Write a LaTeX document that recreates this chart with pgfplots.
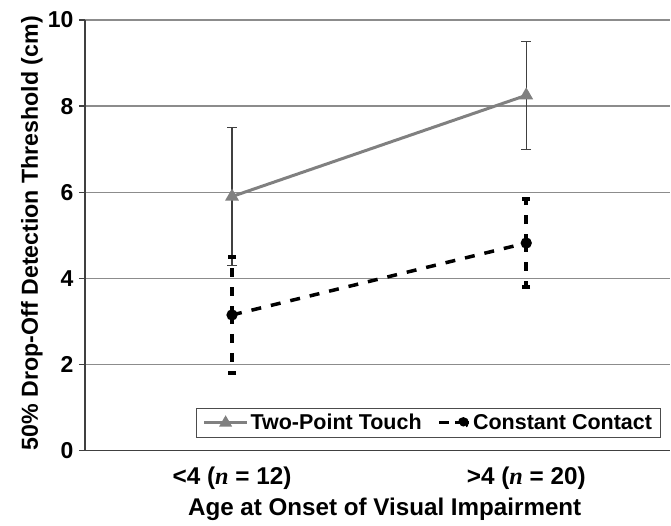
\documentclass[border=0pt]{standalone}
\usepackage{pgfplots}
\pgfplotsset{compat=1.18}
\usepackage{fontspec}
\setmainfont{Liberation Sans}
\newfontfamily\serif{Liberation Serif}
\begin{document}
\begin{tikzpicture}
\begin{axis}[
 scale only axis, width=586pt, height=431pt,
 xmin=0.5, xmax=2.49, ymin=0, ymax=10,
 axis lines*=left,
 axis line style={black!75, line width=1.2pt},
 ytick={0,2,...,10},
 ymajorgrids, grid style={black!45, line width=1.2pt},
 xtick={1,2},
 xticklabels={{<4 ({\serif\itshape n} = 12)}, {>4 ({\serif\itshape n} = 20)}},
 x tick style={draw=none},
 extra x ticks={1.5}, extra x tick labels={},
 extra x tick style={tick style={draw=black!75, line width=1.2pt}, major tick length=6pt, tick align=outside},
 y tick style={black!75, line width=1.2pt},
 tick align=outside, major tick length=6pt,
 /pgf/number format/assume math mode=true,
 yticklabel style={font=\bfseries\fontsize{23}{26}\selectfont, xshift=-2pt},
 xticklabel style={font=\bfseries\fontsize{24.3}{27}\selectfont, yshift=-7pt},
 xlabel={Age at Onset of Visual Impairment},
 ylabel={50\% Drop-Off Detection Threshold (cm)},
 every axis x label/.style={at={(axis description cs:0.512,-0.137)}, anchor=center, font=\bfseries\fontsize{24.2}{27}\selectfont},
 every axis y label/.style={at={(axis description cs:-0.0904,0.505)}, rotate=90, anchor=center, font=\bfseries\fontsize{23.2}{26}\selectfont},
 legend style={at={(axis description cs:0.983,0.03)}, anchor=south east, draw=black!70, line width=0.8pt,
   font=\bfseries\fontsize{21.5}{24}\selectfont, legend columns=2, inner xsep=6pt, inner ysep=4pt,
   /tikz/every even column/.append style={column sep=14pt}},
 legend cell align=left,
 clip=false,
]
\addplot[gray, line width=3pt, mark=triangle*, mark size=5pt,
  legend image code/.code={\draw[gray, line width=3pt] (0pt,0pt)--(43pt,0pt);
     \fill[gray] (21.5pt,0pt) ++(90:4.5pt) -- ++(-120:7.8pt) -- ++(0:7.8pt) -- cycle;},
  error bars/.cd, y dir=both, y explicit,
  error bar style={black!75, line width=1.3pt, solid},
  error mark options={rotate=90, mark size=5pt, black!75, line width=1.3pt}]
  coordinates {(1,5.9) +- (0,1.6) (2,8.25) +- (0,1.25)};
\addlegendentry{Two-Point Touch}
\addplot[black, line width=3.5pt, dash pattern=on 10pt off 10pt, mark=*, mark size=3.8pt, mark options={solid},
  legend image code/.code={\draw[black, line width=3.5pt, solid] (0pt,0pt)--(6pt,0pt) (16pt,0pt)--(22pt,0pt);
     \fill[black] (24pt,0pt) circle (3.8pt);
     \path (0pt,0pt) -- (30pt,0pt);},
  error bars/.cd, y dir=both, y explicit,
  error bar style={black, line width=3.5pt, dash pattern=on 9pt off 10pt},
  error mark options={rotate=90, mark size=4pt, black, line width=3.5pt, solid}]
  coordinates {(1,3.15) +- (0,1.35) (2,4.82) +- (0,1.02)};
\addlegendentry{Constant Contact}
\coordinate (sw) at (rel axis cs:0,0);
\end{axis}
\path (sw) ++(-85pt,-75pt) rectangle ++(671pt,526pt);
\end{tikzpicture}
\end{document}
